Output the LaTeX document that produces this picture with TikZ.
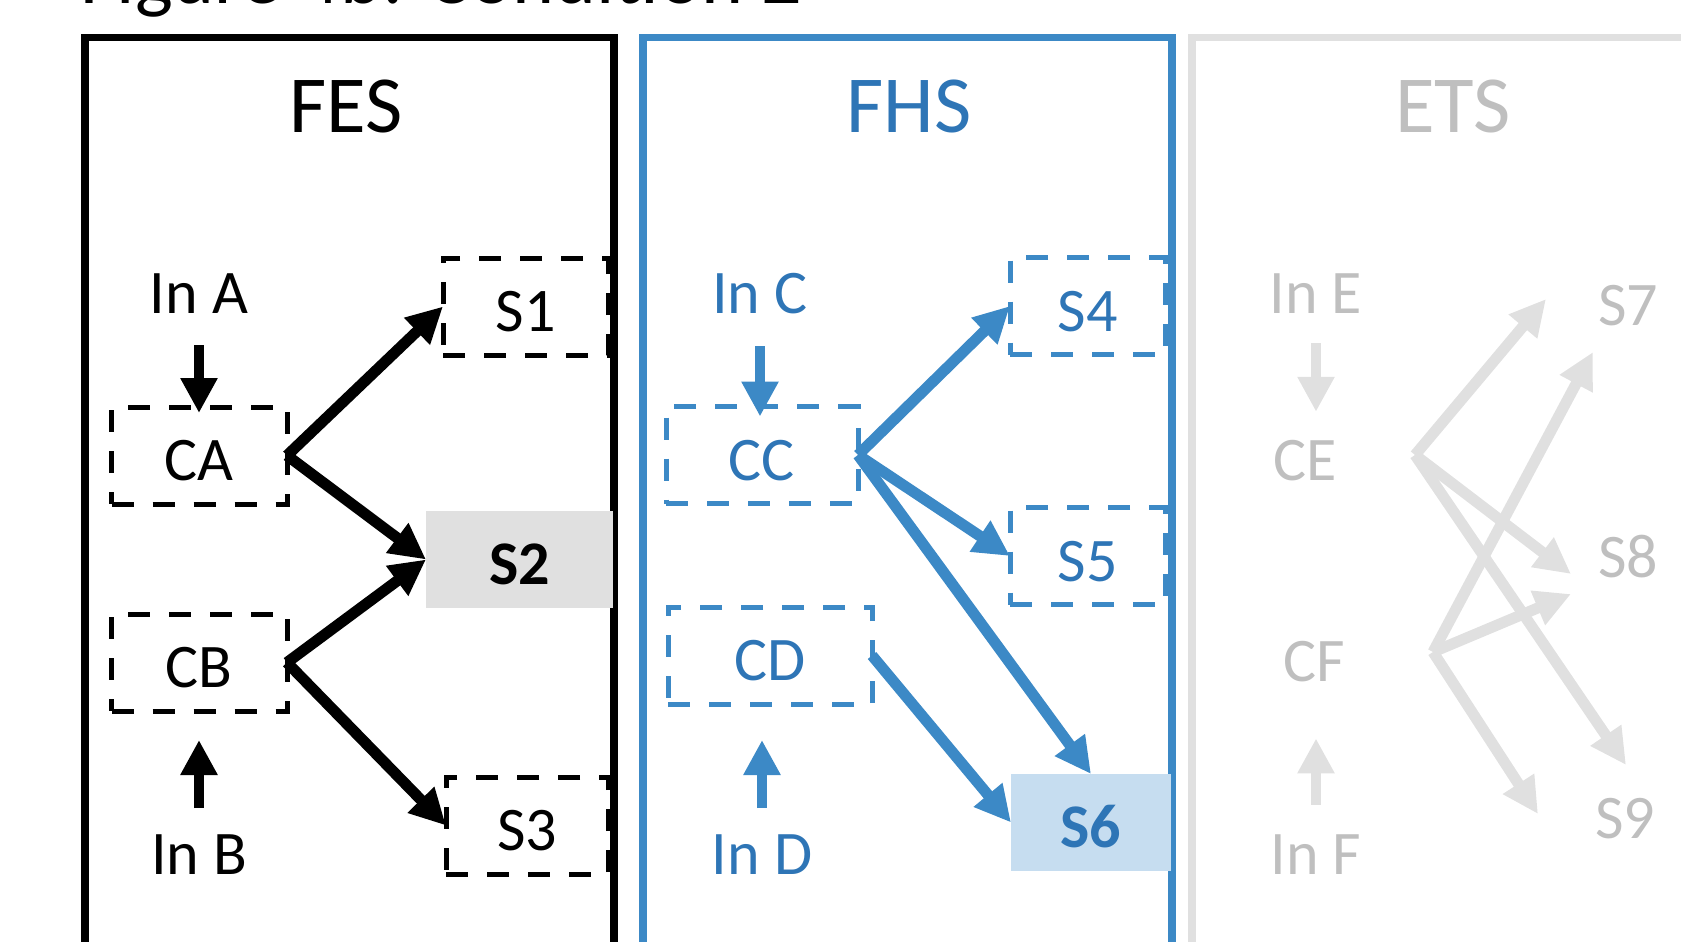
\documentclass[tikz,border=0pt]{standalone}
\usepackage{fontspec}
\setmainfont{Carlito}
\usetikzlibrary{arrows.meta}
\definecolor{blueline}{RGB}{60,137,198}
\definecolor{bluetext}{RGB}{46,117,182}
\definecolor{sixfill}{RGB}{198,221,240}
\definecolor{twofill}{RGB}{224,224,224}
\definecolor{graytext}{RGB}{191,191,191}
\definecolor{grayline}{RGB}{224,224,224}
\begin{document}
\begin{tikzpicture}[x=1pt,y=-1pt,
  lbl/.style={font=\fontsize{62}{70}\selectfont, inner sep=0pt, outer sep=0pt, anchor=base},
  ttl/.style={font=\fontsize{81}{90}\selectfont, inner sep=0pt, outer sep=0pt, anchor=base},
  frame/.style={draw, line width=7.5pt, inner sep=0pt, outer sep=0pt, anchor=north west, minimum height=1000pt},
  box/.style={minimum height=97pt, inner sep=0pt, outer sep=0pt, text height=50pt, text depth=0pt, font=\fontsize{62}{70}\selectfont},
  dbox/.style={box, draw, line width=5pt, dash pattern=on 22pt off 19pt},
  fat/.style={line width=11pt, -{Triangle[length=36pt,width=35pt]}},
  vert/.style={line width=10pt, -{Triangle[length=35pt,width=35pt]}}
]
\useasboundingbox (0,0) rectangle (1681,942);
\clip (0,0) rectangle (1681,942);

% title (mostly cut off)
\node[font=\fontsize{80}{90}\selectfont, inner sep=0pt, anchor=base west] (title) at (80,4) {Figure 4b: Condition 2};

% panel frames
\node[frame, minimum width=529pt] (fesframe) at (85,37.5) {};
\node[frame, draw=blueline, minimum width=529pt] (fhsframe) at (643,37.5) {};
\node[frame, draw=grayline, minimum width=700pt] (etsframe) at (1192,37.5) {};

% ---------- FES ----------
\node[ttl] (FES) at (346,132) {FES};
\node[lbl] (InA) at (199,313) {In A};
\node[dbox, minimum width=175.5pt] (CA) at (199.25,455.5) {CA};
\node[dbox, minimum width=175.5pt] (CB) at (199.25,662.5) {CB};
\node[lbl] (InB) at (199,874) {In B};
\node[dbox, minimum width=165pt] (S1) at (525.5,306.5) {S1};
\node[box, fill=twofill, minimum width=187pt, font=\fontsize{62}{70}\selectfont\bfseries] (S2) at (519.5,559.5) {S2};
\node[dbox, minimum width=162pt] (S3) at (527,825.5) {S3};

\draw[vert, shorten <=32pt, shorten >=-6pt] (InA.south) -- (InA.south |- CA.north);
\draw[vert, shorten <=26pt, shorten >=29pt] (InB.north) -- (InB.north |- CB.south);
\draw[fat] (CA.east) -- (S1.west);
\draw[fat] (CA.east) -- (S2.west);
\draw[fat] (CB.east) -- (S2.west);
\draw[fat] (CB.east) -- (S3.west);

% ---------- FHS ----------
\node[ttl, text=bluetext] (FHS) at (909,132) {FHS};
\node[lbl, text=bluetext] (InC) at (760,313) {In C};
\node[dbox, draw=blueline, text=bluetext, minimum width=192pt] (CC) at (762,455) {CC};
\node[dbox, draw=blueline, text=bluetext, minimum width=204pt] (CD) at (770,655.5) {CD};
\node[lbl, text=bluetext] (InD) at (762,874) {In D};
\node[dbox, draw=blueline, text=bluetext, minimum width=155pt] (S4) at (1087.5,306) {S4};
\node[dbox, draw=blueline, text=bluetext, minimum width=155pt] (S5) at (1087.5,556) {S5};
\node[box, fill=sixfill, text=bluetext, minimum width=160pt, font=\fontsize{62}{70}\selectfont\bfseries] (S6) at (1091,822.5) {S6};

\draw[vert, blueline, shorten <=33pt, shorten >=-10pt] (InC.south) -- (InC.south |- CC.north);
\draw[vert, blueline, shorten <=26pt, shorten >=36pt] (InD.north) -- (InD.north |- CD.south);
\draw[fat, blueline] (CC.east) -- (S4.west);
\draw[fat, blueline] (CC.east) -- (S5.west);
\draw[fat, blueline] (CC.east) -- (S6.north);
\draw[fat, blueline] (CD.east) -- (S6.west);

% ---------- ETS ----------
\node[ttl, text=graytext] (ETS) at (1453,132) {ETS};
\node[lbl, text=graytext] (InE) at (1316,313) {In E};
\node[lbl, text=graytext] (CE) at (1305,480) {CE};
\node[lbl, text=graytext] (CF) at (1314,681) {CF};
\node[lbl, text=graytext] (InF) at (1316,874) {In F};
\node[lbl, text=graytext] (S7) at (1628,325) {S7};
\node[lbl, text=graytext] (S8) at (1628,577) {S8};
\node[lbl, text=graytext] (S9) at (1625,838) {S9};

\draw[vert, grayline, shorten <=30pt, shorten >=28pt] (InE.south) -- (InE.south |- CE.north);
\draw[vert, grayline, shorten <=29pt, shorten >=57pt] (InF.north) -- (InF.north |- CF.south);

\coordinate (ce0) at (1415,455);
\coordinate (cf0) at (1433,652);
\coordinate (t7a) at (1546,299);
\coordinate (t8a) at (1571,574);
\coordinate (t9a) at (1626,765);
\coordinate (t7b) at (1593,352);
\coordinate (t8b) at (1571,594);
\coordinate (t9b) at (1538,814);
\draw[fat, grayline] (ce0) -- (t7a);
\draw[fat, grayline] (ce0) -- (t8a);
\draw[fat, grayline] (ce0) -- (t9a);
\draw[fat, grayline] (cf0) -- (t7b);
\draw[fat, grayline] (cf0) -- (t8b);
\draw[fat, grayline] (cf0) -- (t9b);
\end{tikzpicture}
\end{document}
